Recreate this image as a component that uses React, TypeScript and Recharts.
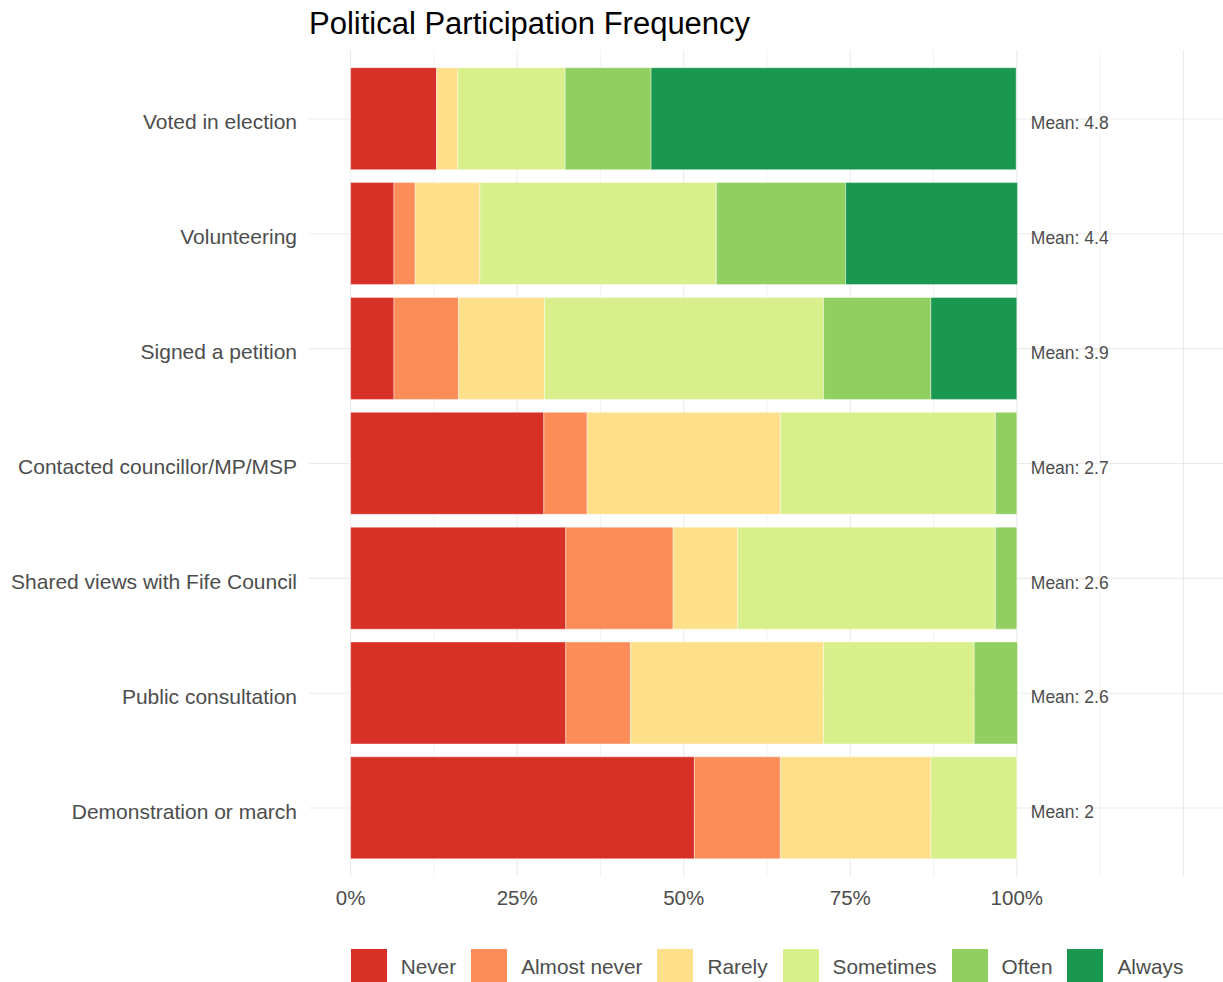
import React from 'react'
import { BarChart, Bar, XAxis, YAxis, ReferenceLine, ReferenceDot } from 'recharts'

const activities = [
  'Voted in election',
  'Volunteering',
  'Signed a petition',
  'Contacted councillor/MP/MSP',
  'Shared views with Fife Council',
  'Public consultation',
  'Demonstration or march',
]
const levels = ['Never', 'Almost never', 'Rarely', 'Sometimes', 'Often', 'Always']
const levelKeys = ['never', 'almostNever', 'rarely', 'sometimes', 'often', 'always']
const levelColors = ['#d73027', '#fc8d59', '#fee08b', '#d9ef8b', '#91cf60', '#1a9850']

// share of respondents per answer
const never = [0.129, 0.065, 0.065, 0.29, 0.323, 0.323, 0.516]
const almostNever = [0, 0.032, 0.097, 0.065, 0.161, 0.097, 0.129]
const rarely = [0.032, 0.097, 0.129, 0.29, 0.097, 0.29, 0.226]
const sometimes = [0.161, 0.355, 0.419, 0.323, 0.387, 0.226, 0.129]
const often = [0.129, 0.194, 0.161, 0.032, 0.032, 0.065, 0]
const always = [0.548, 0.258, 0.129, 0, 0, 0, 0]
const means = ['4.8', '4.4', '3.9', '2.7', '2.6', '2.6', '2']

const xTicks = [0, 0.25, 0.5, 0.75, 1]
const majorBreaks = [0, 0.25, 0.5, 0.75, 1, 1.25]
const minorBreaks = [0.125, 0.375, 0.625, 0.875, 1.125]

const data = activities.map((activity, i) => ({
  activity,
  never: never[i],
  almostNever: almostNever[i],
  rarely: rarely[i],
  sometimes: sometimes[i],
  often: often[i],
  always: always[i],
}))

const font = '"Liberation Sans", Arial, sans-serif'
const textGrey = '#4d4d4d'
const gridGrey = '#ebebeb'
const W = 1225
const H = 982
const xDomain: [number, number] = [-0.0625, 1.3125]
const yPad = { top: 11.5, bottom: 11.5 }

const YTick = (props: any) => {
  const { x, y, payload } = props
  return (
    <text x={x} y={y + 3} dy="0.355em" textAnchor="end" fill={textGrey} fontSize={21}>
      {payload.value}
    </text>
  )
}

// gridlines sit in their own chart underneath so the bars cover them
function GridLayer() {
  return (
    <BarChart
      width={W}
      height={H}
      data={data}
      layout="vertical"
      margin={{ top: 50, right: 0, bottom: 105, left: 309 }}
      barCategoryGap="5.4%"
    >
      <XAxis type="number" domain={xDomain} allowDataOverflow hide />
      <YAxis type="category" dataKey="activity" hide padding={yPad} />
      {levelKeys.map((k) => (
        <Bar key={k} dataKey={k} stackId="a" fill="transparent" isAnimationActive={false} />
      ))}
      {minorBreaks.map((v) => (
        <ReferenceLine key={'m' + v} x={v} stroke={gridGrey} strokeWidth={0.6} />
      ))}
      {majorBreaks.map((v) => (
        <ReferenceLine key={'M' + v} x={v} stroke={gridGrey} strokeWidth={1.1} />
      ))}
      {activities.map((a) => (
        <ReferenceLine key={a} y={a} stroke={gridGrey} strokeWidth={1.1} />
      ))}
    </BarChart>
  )
}

export default function App() {
  return (
    <div
      style={{
        position: 'fixed',
        top: 0,
        left: 0,
        width: 1223,
        height: 982,
        overflow: 'hidden',
        background: '#fff',
        fontFamily: font,
      }}
    >
      <div
        style={{
          position: 'absolute',
          left: 309,
          top: 9,
          fontSize: 31,
          lineHeight: '30px',
          color: '#000',
          whiteSpace: 'nowrap',
        }}
      >
        Political Participation Frequency
      </div>

      <div style={{ position: 'absolute', left: 0, top: 0 }}>
        <GridLayer />
      </div>

      <div style={{ position: 'absolute', left: 0, top: 0 }}>
        <BarChart
          width={W}
          height={H}
          data={data}
          layout="vertical"
          margin={{ top: 50, right: 0, bottom: 65, left: 0 }}
          barCategoryGap="5.4%"
          style={{ fontFamily: font }}
        >
          <XAxis
            type="number"
            domain={xDomain}
            allowDataOverflow
            ticks={xTicks}
            tickFormatter={(v) => `${Math.round(v * 100)}%`}
            axisLine={false}
            tickLine={false}
            tickSize={0}
            tickMargin={13}
            height={40}
            tick={{ fill: textGrey, fontSize: 20.5 }}
          />
          <YAxis
            type="category"
            dataKey="activity"
            width={309}
            axisLine={false}
            tickLine={false}
            tickSize={0}
            tickMargin={12}
            padding={yPad}
            tick={<YTick />}
          />
          {levelKeys.map((k, i) => (
            <Bar
              key={k}
              dataKey={k}
              name={levels[i]}
              stackId="a"
              fill={levelColors[i]}
              stroke="#ffffff"
              strokeWidth={0.4}
              isAnimationActive={false}
            />
          ))}
          {activities.map((a, i) => (
            <ReferenceDot
              key={a}
              x={1}
              y={a}
              r={1}
              fill="none"
              stroke="none"
              label={{
                content: (p: any) => {
                  const vb = p.viewBox || {}
                  return (
                    <text
                      x={vb.x + vb.width + 13}
                      y={vb.y + vb.height / 2 + 4}
                      dy="0.355em"
                      textAnchor="start"
                      fill={textGrey}
                      fontSize={17.5}
                    >
                      {`Mean: ${means[i]}`}
                    </text>
                  )
                },
              }}
            />
          ))}
        </BarChart>
      </div>

      <div
        style={{
          position: 'absolute',
          left: 309,
          width: 916,
          top: 949,
          display: 'flex',
          justifyContent: 'center',
          alignItems: 'center',
          fontSize: 20.8,
          color: textGrey,
        }}
      >
        {levels.map((l, i) => (
          <div key={l} style={{ display: 'flex', alignItems: 'center', marginRight: i < levels.length - 1 ? 15 : 0 }}>
            <div style={{ width: 36, height: 36, background: levelColors[i], marginRight: 14 }} />
            <span style={{ whiteSpace: 'nowrap' }}>{l}</span>
          </div>
        ))}
      </div>
    </div>
  )
}
